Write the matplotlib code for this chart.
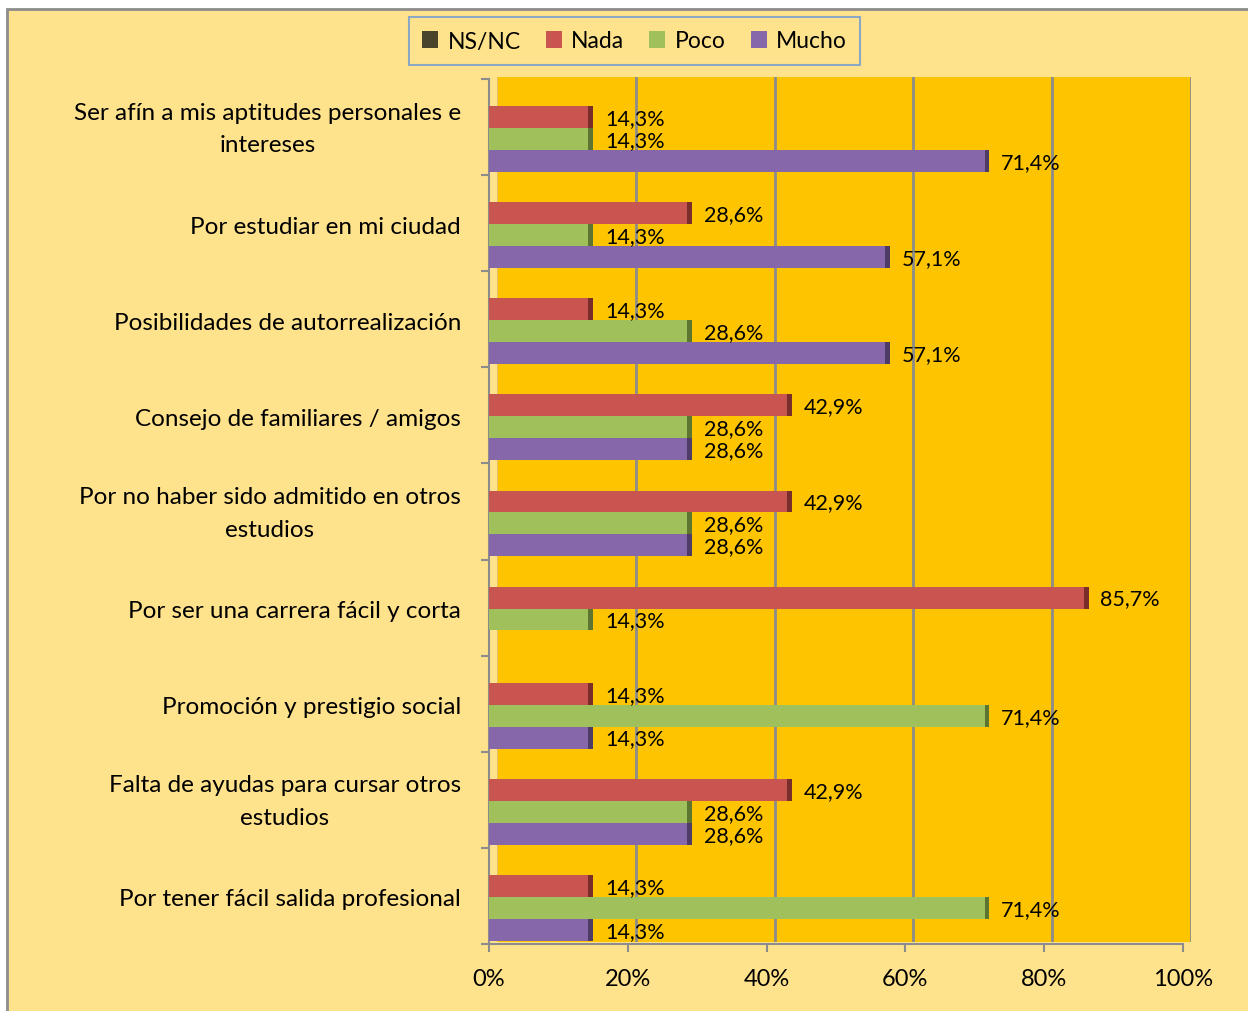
import matplotlib
matplotlib.use("Agg")
import matplotlib.pyplot as plt
from matplotlib.patches import Rectangle, Patch
import matplotlib.transforms as mtransforms
import numpy as np

plt.rcParams['font.family'] = ['Lato', 'DejaVu Sans']

categories = [
    "Ser afín a mis aptitudes personales e\nintereses",
    "Por estudiar en mi ciudad",
    "Posibilidades de autorrealización",
    "Consejo de familiares / amigos",
    "Por no haber sido admitido en otros\nestudios",
    "Por ser una carrera fácil y corta",
    "Promoción y prestigio social",
    "Falta de ayudas para cursar otros\nestudios",
    "Por tener fácil salida profesional",
]
series_names = ["NS/NC", "Nada", "Poco", "Mucho"]
nsnc = [0, 0, 0, 0, 0, 0, 0, 0, 0]
nada = [14.3, 28.6, 14.3, 42.9, 42.9, 85.7, 14.3, 42.9, 14.3]
poco = [14.3, 14.3, 28.6, 28.6, 28.6, 14.3, 71.4, 28.6, 71.4]
mucho = [71.4, 57.1, 57.1, 28.6, 28.6, 0, 14.3, 28.6, 14.3]
xticks = [0, 20, 40, 60, 80, 100]
xticklabels = ["0%", "20%", "40%", "60%", "80%", "100%"]

colors = ["#4A452A", "#C8554F", "#A0C05C", "#8668AA"]
side_colors = ["#2E2B1A", "#7A2E2B", "#5E7532", "#4E3B66"]
fig_bg = "#FFE28C"
wall_bg = "#FFC400"
grid_col = "#8C8C8C"

W, H = 1248, 1012
fig = plt.figure(figsize=(W / 100, H / 100), dpi=100, facecolor="white")

# figure frame
fig.patches.append(Rectangle((7 / W, -0.01), 1.0, 1.01 - 10 / H, transform=fig.transFigure,
                             facecolor=fig_bg, edgecolor="#8C8C8C", linewidth=2, zorder=-10))

def fx(px):
    return px / W

def fy(py):
    return 1 - py / H

# wall (back plane), shifted up-right
L, R, T, B = 489, 1183, 80, 945
dx, dy = 8, 2
wall = fig.add_axes([fx(L + dx), fy(B - dy), fx(R - L), (B - T) / H])
wall.set_xlim(0, 100)
wall.set_ylim(0, 1)
wall.set_facecolor(wall_bg)
for v in xticks[1:]:
    wall.axvline(v, color=grid_col, lw=2, zorder=1)
wall.axvline(0, color="#D9C070", lw=1.2, zorder=1)
for s in wall.spines.values():
    s.set_visible(False)
wall.set_xticks([])
wall.set_yticks([])

ax = fig.add_axes([fx(L), fy(B), fx(R - L), (B - T) / H])
ax.patch.set_alpha(0)
ax.set_xlim(0, 100)
n = len(categories)
ax.set_ylim(n - 0.5, -0.5)

h = 0.228
y = np.arange(n)
offsets = [-1.5 * h, -0.5 * h, 0.5 * h, 1.5 * h]
data = [nsnc, nada, poco, mucho]
for k, vals in enumerate(data):
    pos = y + offsets[k] + 0.01
    ax.barh(pos, vals, height=h, color=colors[k], edgecolor="none", zorder=3)
    for yy, v in zip(pos, vals):
        if v > 0:
            ax.barh(yy, 0.7, left=v, height=h, color=side_colors[k], edgecolor="none", zorder=3)
            ax.text(v + 2.4, yy + 0.01, f"{v:.1f}%".replace(".", ","), va="center", ha="left",
                    fontsize=15.5, color="black", zorder=4)

# spines / ticks
for s in ["top", "right"]:
    ax.spines[s].set_visible(False)
for s in ["left", "bottom"]:
    ax.spines[s].set_color(grid_col)
    ax.spines[s].set_linewidth(1.5)

ax.set_xticks(xticks)
ax.set_xticklabels(xticklabels, fontsize=17)
ax.tick_params(axis="x", direction="out", length=6, width=1.5, color=grid_col, pad=11)

ax.set_yticks(np.arange(-0.5, n, 1.0))
ax.set_yticklabels([])
ax.tick_params(axis="y", which="major", direction="out", length=6, width=1.5, color=grid_col)

# category labels
trans = mtransforms.blended_transform_factory(ax.transAxes, ax.transData)
for i, cat in enumerate(categories):
    yy = i + 0.015 if "\n" in cat else i + 0.03
    ax.text(-28 / (R - L), yy, cat, transform=trans, ha="right", va="center",
            multialignment="center", linespacing=1.7, fontsize=17.5, color="black")

handles = [Patch(facecolor=c, edgecolor="none") for c in colors]
leg = fig.legend(handles, series_names, loc="center", bbox_to_anchor=(fx(634.5), fy(42)),
                 ncol=4, fontsize=16.5, frameon=True, fancybox=False,
                 handlelength=0.7, handleheight=0.7, handletextpad=0.4,
                 columnspacing=1.1, borderpad=0.6)
leg.get_frame().set_facecolor(fig_bg)
leg.get_frame().set_edgecolor("#6C9AD2")
leg.get_frame().set_linewidth(1.5)

fig.savefig("out.png", dpi=100, facecolor=fig.get_facecolor())
